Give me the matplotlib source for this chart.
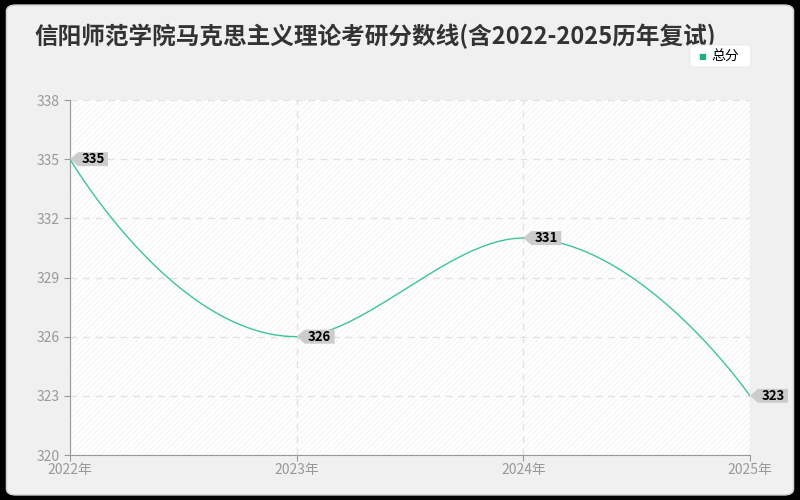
import numpy as np
import matplotlib
matplotlib.use('Agg')
import matplotlib.pyplot as plt
from matplotlib.patches import FancyBboxPatch, Polygon
import matplotlib.transforms as mtransforms

plt.rcParams['font.family'] = ['Noto Sans CJK SC', 'DejaVu Sans']
plt.rcParams['hatch.linewidth'] = 0.6

years = ['2022年', '2023年', '2024年', '2025年']
scores = [335, 326, 331, 323]
yticks = [320, 323, 326, 329, 332, 335, 338]
title = '信阳师范学院马克思主义理论考研分数线(含2022-2025历年复试)'
series_name = '总分'
line_color = '#3cc49a'


def smooth_curve(x, y, s=0.42, n=60):
    # bezier through the points; flat handles at the turning points,
    # split between both sides by the size of the neighbouring steps
    x = np.asarray(x, float)
    y = np.asarray(y, float)
    k = len(x)
    left = np.zeros((k, 2))
    right = np.zeros((k, 2))
    for i in range(1, k - 1):
        dl, dr = abs(y[i] - y[i - 1]), abs(y[i + 1] - y[i])
        span = x[i + 1] - x[i - 1]
        if (y[i] - y[i - 1]) * (y[i + 1] - y[i]) > 0:
            slope = (y[i + 1] - y[i - 1]) / span
        else:
            slope = 0.0
        hl = s * span * dl / (dl + dr)
        hr = s * span * dr / (dl + dr)
        left[i] = [-hl, -hl * slope]
        right[i] = [hr, hr * slope]
    xs, ys = [], []
    t = np.linspace(0, 1, n)[:, None]
    for i in range(k - 1):
        p0 = np.array([x[i], y[i]])
        p3 = np.array([x[i + 1], y[i + 1]])
        p1 = p0 + right[i]
        p2 = p3 + left[i + 1]
        b = (1 - t)**3 * p0 + 3 * (1 - t)**2 * t * p1 + 3 * (1 - t) * t**2 * p2 + t**3 * p3
        xs.append(b[:, 0])
        ys.append(b[:, 1])
    return np.concatenate(xs), np.concatenate(ys)


fig = plt.figure(figsize=(8, 5), dpi=100, facecolor='black')
bg = FancyBboxPatch((0.008, 0.01), 0.984, 0.98, boxstyle='round,pad=0,rounding_size=0.012',
                    transform=fig.transFigure, facecolor='#f0f0f0', edgecolor='#cccccc', lw=1,
                    zorder=-10)
fig.patches.append(bg)

ax = fig.add_axes([0.0875, 0.09, 0.85, 0.71])
ax.set_facecolor('white')
ax.patch.set_hatch('//////')
ax.patch.set_edgecolor('#f2f2f2')

xi = np.arange(len(years))
cx, cy = smooth_curve(xi, scores)
ax.plot(cx, cy, color=line_color, lw=1, zorder=3)

ax.set_xlim(0, 3)
ax.set_ylim(320, 338)
ax.set_xticks(xi)
ax.set_xticklabels(years)
ax.set_yticks(yticks)
ax.grid(True, color='#e3e3e3', ls=(0, (5, 4)), lw=1)
ax.tick_params(colors='#999999', labelsize=10, length=4)
ax.tick_params(axis='x', pad=2)
for s in ['top', 'right']:
    ax.spines[s].set_visible(False)
for s in ['left', 'bottom']:
    ax.spines[s].set_color('#999999')

# value tags
for x, v in zip(xi, scores):
    tr = fig.dpi_scale_trans + mtransforms.ScaledTranslation(x, v, ax.transData)
    verts = np.array([[0, 0], [8, 7], [38, 7], [38, -7], [8, -7]]) / 100
    ax.add_patch(Polygon(verts, closed=True, transform=tr, facecolor='#cccccc',
                         edgecolor='none', zorder=4, clip_on=False))
    ax.text(0.23, 0, str(v), transform=tr, ha='center', va='center', fontsize=9.5,
            fontweight='bold', color='black', zorder=5, clip_on=False)

fig.text(0.043, 0.928, title, fontsize=17, fontweight='bold', color='#333333', va='center')

# legend
lg = FancyBboxPatch((0.8625, 0.866), 0.076, 0.044, boxstyle='round,pad=0,rounding_size=0.006',
                    transform=fig.transFigure, facecolor='white', edgecolor='#e6e6e6', lw=0.6,
                    zorder=5)
fig.patches.append(lg)
fig.text(0.878, 0.888, '■', color='#1aaf85', fontsize=6, va='center', ha='center',
         family=['DejaVu Sans'], zorder=6)
fig.text(0.889, 0.888, series_name, color='black', fontsize=10, va='center', zorder=6)

fig.savefig('out.png', dpi=100, facecolor=fig.get_facecolor())
